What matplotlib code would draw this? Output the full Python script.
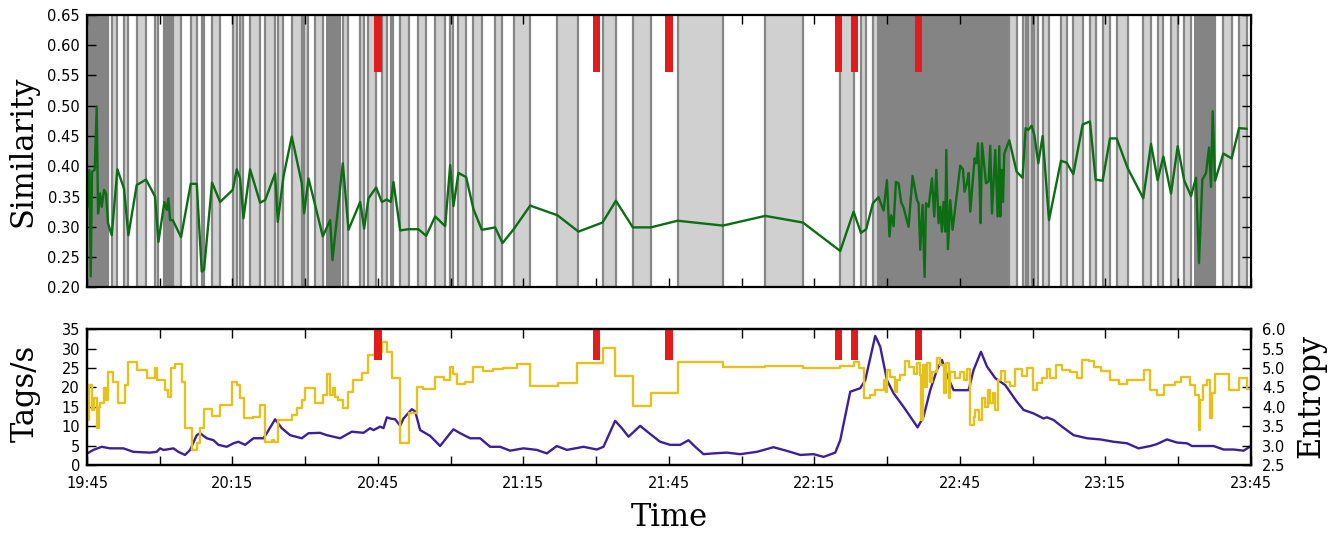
import numpy as np
import matplotlib
matplotlib.use("Agg")
import matplotlib.pyplot as plt
from matplotlib.ticker import FixedLocator, FuncFormatter

# all times are minutes after 19:45

# similarity per window (window end times)
green_t = [0.07, 0.48, 0.76, 1.03, 1.58, 2.0, 2.27, 2.68, 3.03, 3.51,
           3.92, 4.33, 5.09, 6.26, 7.63, 8.53, 10.25, 12.17, 14.03, 14.72,
           15.96, 16.44, 16.78, 17.13, 17.68, 19.39, 21.39, 22.63, 23.66, 24.14,
           25.79, 27.44, 30.05, 30.88, 31.57, 32.26, 33.63, 35.69, 36.73, 38.79,
           39.34, 40.51, 42.23, 44.29, 44.77, 45.67, 47.04, 48.62, 50.14, 50.62,
           52.75, 53.92, 56.33, 57.15, 58.05, 59.63, 60.80, 61.83, 62.65, 63.20,
           64.58, 66.30, 68.36, 69.94, 71.80, 73.86, 74.90,
           75.57, 76.60, 78.19, 79.70, 81.42, 84.17, 85.68, 88.09, 91.39, 97.02,
           101.36, 106.31, 109.07, 112.57, 116.29, 121.78, 131.14, 139.87, 147.64, 155.34,
           158.09, 159.61, 160.70, 162.08, 163.24, 164.28, 164.97, 165.50,
           165.86, 166.34, 166.82, 167.37, 167.92, 168.40, 169.43, 170.26, 171.16, 171.50,
           171.84, 172.32, 172.74, 173.02, 173.57, 174.26, 174.73, 175.15, 175.62, 175.97,
           176.31, 176.66, 177.00, 177.21, 177.55, 178.03, 178.51, 180.09, 180.65, 180.98,
           181.47, 181.81, 182.16, 182.64, 183.05, 183.40, 183.75, 184.08, 184.29, 184.57,
           185.40, 185.94, 186.28, 186.63, 187.31, 187.79,
           188.14, 188.35, 188.62, 188.90, 189.17, 190.20, 191.72, 192.95, 193.57, 194.12,
           194.81, 195.36, 196.19, 197.08, 198.39, 200.86, 202.03, 203.41, 205.33, 206.84,
           208.01, 209.45, 210.97, 212.35,
           214.61, 217.84, 219.43, 220.80, 221.97, 223.56, 224.93, 226.30, 227.68, 228.71,
           229.33, 230.02, 230.78, 231.40, 231.81, 232.15, 232.64, 234.35, 236.07, 237.59,
           239.16]
green_v = [0.333, 0.394, 0.218, 0.391, 0.394, 0.499, 0.322, 0.355, 0.333, 0.361,
           0.355, 0.306, 0.286, 0.395, 0.363, 0.286, 0.369, 0.378, 0.350, 0.275,
           0.341, 0.328, 0.347, 0.311, 0.311, 0.283, 0.371, 0.371, 0.226, 0.229,
           0.373, 0.341, 0.361, 0.395, 0.380, 0.314, 0.395, 0.340, 0.344, 0.388,
           0.308, 0.383, 0.449, 0.372, 0.322, 0.380, 0.336, 0.284, 0.311, 0.245,
           0.405, 0.295, 0.341, 0.297, 0.347, 0.365, 0.341, 0.345, 0.341, 0.374,
           0.294, 0.296, 0.296, 0.285, 0.317, 0.301, 0.402,
           0.334, 0.389, 0.382, 0.329, 0.295, 0.299, 0.273, 0.297, 0.335, 0.319,
           0.292, 0.307, 0.343, 0.299, 0.299, 0.310, 0.302, 0.318, 0.307, 0.260,
           0.325, 0.290, 0.296, 0.339, 0.349, 0.327, 0.377, 0.284,
           0.319, 0.301, 0.374, 0.372, 0.340, 0.332, 0.300, 0.384, 0.344, 0.339,
           0.262, 0.336, 0.217, 0.339, 0.333, 0.380, 0.317, 0.394, 0.306, 0.333,
           0.292, 0.341, 0.292, 0.427, 0.263, 0.344, 0.295, 0.401, 0.395, 0.358,
           0.372, 0.389, 0.325, 0.372, 0.413, 0.405, 0.438, 0.372, 0.306, 0.438,
           0.372, 0.375, 0.434, 0.322, 0.427, 0.317,
           0.433, 0.317, 0.394, 0.341, 0.421, 0.443, 0.391, 0.381, 0.463, 0.460,
           0.467, 0.452, 0.405, 0.450, 0.311, 0.409, 0.406, 0.387, 0.469, 0.474,
           0.378, 0.376, 0.446, 0.446,
           0.397, 0.347, 0.437, 0.377, 0.416, 0.355, 0.433, 0.376, 0.351, 0.381,
           0.240, 0.378, 0.389, 0.431, 0.366, 0.491, 0.376, 0.421, 0.413, 0.463,
           0.462]

# stretches where windows are so short they merge into solid grey
dense_spans = [(0.0, 4.5), (15.7, 18.0), (49.3, 52.4), (163.0, 190.0), (228.2, 232.8)]

# detected events
events = [60.0, 105.0, 120.0, 155.0, 158.3, 171.5]

# tags per second
rate_t = [0.07, 1.31, 3.03, 4.75, 7.5, 9.56, 13.0, 14.37, 15.06, 15.75,
          16.44, 17.81, 18.84, 20.22, 21.25, 22.63, 23.31, 24.69, 26.07, 27.10,
          28.82, 30.19, 31.22, 32.6, 34.32, 36.38, 37.07, 38.79, 40.16, 41.88,
          44.29, 45.67, 48.07, 49.45, 52.2, 54.61, 57.02, 58.39, 59.08, 60.45,
          61.14, 61.83, 62.52, 63.55, 64.58, 65.27, 66.99, 67.68, 68.71, 70.77,
          72.82, 74.9, 75.57, 76.95, 79.01, 81.07, 83.13, 85.20, 87.26, 90.01,
          92.76, 94.83, 96.89, 98.96, 102.39, 105.14, 106.51, 108.92, 110.30, 111.68,
          114.08, 116.14, 118.20, 120.27, 122.33, 124.05, 125.43, 127.14, 129.21, 131.96,
          134.71, 138.15, 141.58, 145.02, 147.09, 149.84, 151.90, 154.31, 155.34, 157.40,
          159.46, 160.50, 162.56, 163.59, 164.97, 166.34, 168.40, 169.78, 171.29, 172.53,
          173.90, 175.28, 176.31, 177.35, 178.72, 180.09, 181.81, 182.84, 184.36, 185.60,
          187.31, 189.37, 191.78, 193.16, 195.22, 197.28, 197.98, 199.35, 201.07, 203.47,
          206.23, 208.97, 211.72, 214.48, 216.87, 219.29, 220.66, 222.72, 224.79, 226.85,
          227.88, 230.29, 232.35, 234.41, 236.48, 238.54, 239.78]
rate_v = [3.0, 3.9, 4.7, 4.3, 4.3, 3.4, 3.2, 3.4, 4.3, 3.9,
          4.0, 4.3, 3.4, 2.6, 3.9, 7.7, 8.2, 6.9, 6.4, 5.2,
          4.7, 5.6, 6.0, 5.2, 6.9, 6.9, 8.2, 11.8, 9.5, 7.7,
          6.9, 8.2, 8.3, 7.7, 6.9, 8.6, 8.3, 9.5, 9.0, 9.9,
          9.5, 12.3, 12.0, 11.8, 10.1, 12.0, 14.4, 13.8, 9.0, 7.5,
          4.9, 8.2, 9.2, 8.2, 6.9, 6.9, 4.7, 4.7, 3.7, 4.3,
          3.9, 3.0, 4.9, 3.9, 4.7, 4.0, 4.7, 11.4, 9.5, 7.3,
          10.1, 8.0, 6.0, 5.2, 5.2, 6.4, 4.7, 2.8, 3.0, 3.2,
          2.8, 3.4, 4.6, 3.4, 2.6, 2.8, 2.1, 3.2, 6.4, 18.9,
          19.8, 21.9, 33.3, 30.5, 21.9, 18.5, 15.0, 12.5, 9.7, 12.5,
          19.3, 24.5, 27.1, 23.2, 19.3, 19.3, 19.3, 24.5, 29.2, 25.4,
          22.4, 20.6, 16.3, 14.2, 13.3, 12.0, 12.3, 11.6, 9.9, 7.7,
          6.9, 6.6, 6.0, 5.6, 4.3, 4.9, 5.4, 6.6, 5.8, 5.6,
          4.9, 4.9, 4.9, 4.0, 4.0, 3.7, 4.7]

# entropy, piecewise constant from each start time
ent_t = [0.07, 0.48, 0.96, 1.44, 1.99, 2.41, 2.68, 3.51, 3.92, 4.40,
         5.30, 6.46, 7.84, 8.53, 10.25, 12.31, 14.03, 14.51, 16.09, 16.78,
         17.26, 18.16, 19.53, 20.22, 21.60, 22.63, 23.31, 24.14, 25.72, 27.44,
         29.85, 30.88, 31.57, 32.39, 34.32, 35.69, 36.73, 38.10, 38.58, 39.34,
         42.23, 43.26, 44.29, 44.98, 47.04, 48.62, 49.45, 50.14, 50.83, 51.17,
         51.86, 52.75, 53.92, 54.95, 56.67, 58.05, 59.42, 60.80, 61.83, 62.86,
         64.58, 66.30, 68.02, 69.39, 71.80, 73.52,
         74.88, 75.57, 76.26, 77.98, 79.70, 81.63, 83.82, 85.88, 88.64, 91.39,
         97.23, 101.15, 106.51, 108.92, 112.57, 116.29, 121.78, 131.14, 139.87, 147.64,
         155.34, 158.09, 159.12, 160.29, 161.53, 162.56, 164.28, 164.70, 165.0, 165.65,
         166.68, 167.03, 167.72, 168.75, 169.44, 170.47, 171.16, 171.71, 171.98, 172.32,
         172.87, 173.22, 173.77, 174.25, 175.28, 175.97, 176.66, 177.21, 177.69, 178.03,
         179.06, 180.10, 180.78, 181.47, 182.02, 182.85, 183.19, 183.88, 184.57, 185.25,
         185.74, 186.29, 186.84, 187.32, 187.80, 188.49, 189.38, 190.41, 191.44, 192.82,
         193.85, 195.09, 195.91, 196.95, 197.98, 198.67, 199.90, 201.07, 202.79, 204.17,
         205.20, 206.57, 207.61, 209.12, 210.91, 212.76, 214.48, 217.92, 219.16, 220.67,
         222.05, 224.46, 225.63, 227.55, 228.58, 229.27, 229.48, 230.16, 230.99, 231.68,
         232.02, 232.57, 235.46, 237.52, 239.24, 239.8]
ent_v = [3.66, 4.56, 3.92, 4.22, 3.45, 4.00, 4.09, 4.48, 4.18, 4.91,
         4.65, 4.09, 4.56, 5.15, 4.95, 4.74, 4.99, 4.69, 4.43, 4.26,
         4.99, 5.10, 4.65, 3.45, 2.89, 3.06, 3.45, 3.94, 3.76, 4.05,
         4.65, 4.56, 4.22, 3.70, 3.73, 4.05, 3.10, 3.14, 3.10, 3.66,
         3.79, 3.96, 4.18, 4.48, 4.09, 4.31, 4.86, 4.31, 4.48, 4.26,
         4.18, 3.96, 4.39, 4.69, 4.88, 5.34, 5.42, 5.68, 5.42, 4.74,
         3.06, 3.83, 4.52, 4.46, 4.78, 4.68,
         5.04, 4.86, 4.59, 4.65, 5.02, 4.93, 4.97, 4.99, 5.11, 4.55,
         4.62, 5.12, 5.51, 4.80, 4.03, 4.37, 5.15, 5.04, 5.05, 4.99,
         5.05, 5.15, 4.99, 4.22, 4.31, 4.43, 4.69, 4.39, 4.95, 4.78,
         4.39, 4.69, 4.82, 5.17, 5.04, 4.86, 5.12, 4.82, 3.66, 5.08,
         4.52, 5.12, 4.65, 4.91, 5.25, 5.08, 4.35, 5.12, 4.22, 4.91,
         4.74, 4.91, 4.69, 4.97, 3.53, 3.75, 3.92, 3.66, 4.22, 4.00,
         4.43, 4.09, 4.35, 3.92, 4.69, 4.93, 4.65, 4.54, 4.97, 4.80,
         4.99, 4.43, 4.61, 4.74, 4.97, 4.74, 5.08, 4.95, 4.91, 4.74,
         5.21, 5.17, 5.04, 4.93, 4.69, 4.59, 4.68, 4.95, 4.43, 4.31,
         4.56, 4.65, 4.78, 4.56, 4.31, 3.40, 4.18, 4.56, 4.69, 3.70,
         4.35, 4.86, 4.43, 4.74, 4.45, 4.45]

xticks = list(range(0, 241, 15))


def clock(m, pos=None):
    m = int(round(m))
    if m % 30:
        return ''
    total = 19 * 60 + 45 + m
    return '%d:%02d' % (total // 60, total % 60)


plt.rcParams['font.family'] = 'DejaVu Sans'
plt.rcParams['font.size'] = 10.5

fig = plt.figure(figsize=(13.43, 5.35), dpi=100)
ax1 = fig.add_axes([0.0648, 0.463, 0.8665, 0.509])
ax2 = fig.add_axes([0.0648, 0.1308, 0.8665, 0.2537])
ax3 = ax2.twinx()

red = '#e31b1b'

## top: window shading, similarity line, events
for i in range(0, len(green_t) - 1, 2):
    ax1.axvspan(green_t[i], green_t[i + 1], fc='#d0d0d0', ec='#868686', lw=1.6, zorder=1)
for a, b in dense_spans:
    ax1.axvspan(a, b, fc='#848484', ec='none', zorder=1.5)
ax1.plot(green_t, green_v, color='#0b6e12', lw=1.7, zorder=3)
for e in events:
    ax1.axvspan(e - 0.75, e + 0.75, ymin=(0.555 - 0.2) / 0.45, ymax=1, color=red, lw=0, zorder=4)
ax1.set_xlim(0, 240)
ax1.set_ylim(0.2, 0.65)
ax1.set_yticks(np.arange(0.20, 0.651, 0.05))
ax1.yaxis.set_major_formatter(FuncFormatter(lambda v, p: '%.2f' % v))
ax1.xaxis.set_major_locator(FixedLocator(xticks))
ax1.set_xticklabels([])
ax1.tick_params(direction='in', length=6.5, width=1, top=True, right=True, pad=5)
ax1.set_ylabel('Similarity', family='DejaVu Serif', fontsize=22)
ax1.yaxis.set_label_coords(-0.042, 0.5)

## bottom: tags/s and entropy
ax2.plot(rate_t, rate_v, color='#3d1f9c', lw=1.7, zorder=2)
ax3.step(ent_t, ent_v, where='post', color='#e6c11c', lw=1.7, zorder=2)
for e in events:
    ax3.axvspan(e - 0.75, e + 0.75, ymin=27 / 35, ymax=1, color=red, lw=0, zorder=4)
ax2.set_xlim(0, 240)
ax2.set_ylim(0, 35)
ax3.set_ylim(2.5, 6.0)
ax2.set_yticks(np.arange(0, 36, 5))
ax3.set_yticks(np.arange(2.5, 6.01, 0.5))
ax3.yaxis.set_major_formatter(FuncFormatter(lambda v, p: '%.1f' % v))
ax2.xaxis.set_major_locator(FixedLocator(xticks))
ax2.xaxis.set_major_formatter(FuncFormatter(clock))
ax2.tick_params(direction='in', length=6.5, width=1, top=True, right=False, pad=5)
ax2.tick_params(axis='x', pad=8)
ax3.tick_params(direction='in', length=6.5, width=1, pad=8)
ax2.set_ylabel('Tags/s', family='DejaVu Serif', fontsize=22)
ax2.yaxis.set_label_coords(-0.040, 0.53)
ax3.set_ylabel('Entropy', family='DejaVu Serif', fontsize=22)
ax3.yaxis.set_label_coords(1.038, 0.51)
ax2.set_xlabel('Time', family='DejaVu Serif', fontsize=22)
ax2.xaxis.set_label_coords(0.5, -0.27)

for ax in (ax1, ax2, ax3):
    for s in ax.spines.values():
        s.set_linewidth(1.6)
        s.set_zorder(10)

fig.savefig('out.png', dpi=100)
